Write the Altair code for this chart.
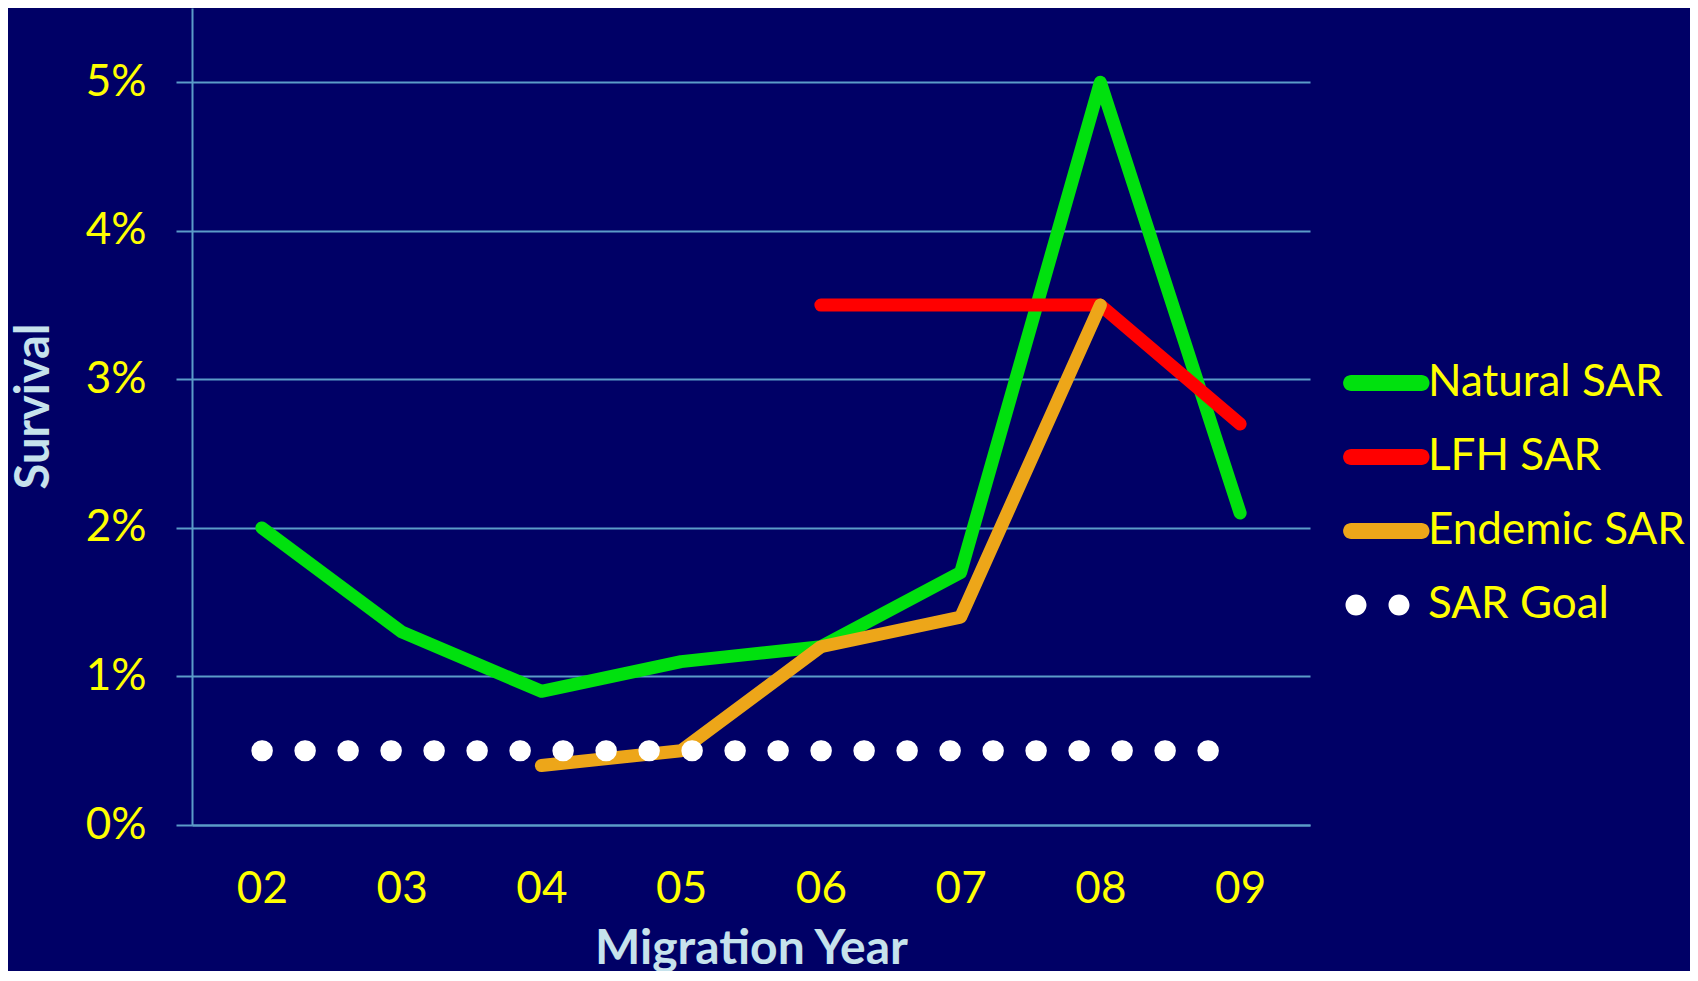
import altair as alt
import pandas as pd

# ---- data ----
years = ["02", "03", "04", "05", "06", "07", "08", "09"]
natural_sar = [2.0, 1.3, 0.9, 1.1, 1.2, 1.7, 5.0, 2.1]
lfh_sar = [None, None, None, None, 3.5, 3.5, 3.5, 2.7]
endemic_sar = [None, None, 0.4, 0.5, 1.2, 1.4, 3.5, None]
sar_goal = [0.5, 0.5, 0.5, 0.5, 0.5, 0.5, 0.5, 0.5]
series_names = ["Natural SAR", "LFH SAR", "Endemic SAR", "SAR Goal"]
series_colors = ["#00E10E", "#FF0000", "#EDA619", "#FFFFFF"]
y_ticks = [0, 1, 2, 3, 4, 5]

rows = []
for name, vals in zip(series_names, [natural_sar, lfh_sar, endemic_sar, sar_goal]):
    for yr, v in zip(years, vals):
        if v is not None:
            rows.append({"year": yr, "value": v, "series": name})
df = pd.DataFrame(rows)

BG = "#000066"
GRID = "#5B9BC8"
YELLOW = "#FFFF00"
TITLE_C = "#C6E2EC"
FONT = "Lato"

# legend symbol shapes (custom paths)
line_sym = "M-1.92,-0.4H1.6A0.4,0.4 0 0 1 1.6,0.4H-1.92A0.4,0.4 0 0 1 -1.92,-0.4Z"
dots_sym = ("M-2.2,0A0.525,0.525 0 1 0 -1.15,0A0.525,0.525 0 1 0 -2.2,0Z "
            "M-0.05,0A0.525,0.525 0 1 0 1.0,0A0.525,0.525 0 1 0 -0.05,0Z")
legend_shapes = [line_sym, line_sym, line_sym, dots_sym]

x_enc = alt.X(
    "year:O",
    scale=alt.Scale(domain=years, type="point", padding=0.5),
    axis=alt.Axis(
        title="Migration Year", labelAngle=0, ticks=False, grid=False,
        domain=True, domainColor=GRID, domainWidth=2,
        labelColor=YELLOW, labelFont=FONT, labelFontSize=44,
        labelBaseline="alphabetic", labelPadding=77,
        titleColor=TITLE_C, titleFont=FONT, titleFontSize=48, titleFontWeight="bold",
        titleY=138, titleBaseline="alphabetic",
    ),
)
y_enc = alt.Y(
    "value:Q",
    scale=alt.Scale(domain=[0, 5.5], nice=False),
    axis=alt.Axis(
        title="Survival", values=y_ticks, labelExpr="datum.value + '%'",
        grid=True, gridColor=GRID, gridWidth=2,
        tickSize=16, tickColor=GRID, tickWidth=2,
        domain=True, domainColor=GRID, domainWidth=2,
        labelColor=YELLOW, labelFont=FONT, labelFontSize=44, labelPadding=30,
        titleColor=TITLE_C, titleFont=FONT, titleFontSize=47, titleFontWeight="bold",
        titleAngle=270, titleAlign="center", titleBaseline="middle",
        titleX=-158, titleY=398,
    ),
)

base = alt.Chart(df)

layers = []
for name, col in zip(series_names[:3], series_colors[:3]):
    layers.append(
        base.transform_filter(alt.datum.series == name)
        .mark_line(color=col, strokeWidth=13, strokeCap="round", strokeJoin="round")
        .encode(x=x_enc, y=y_enc)
    )

goal = (
    base.transform_filter(alt.datum.series == "SAR Goal")
    .mark_line(color="#FFFFFF", strokeWidth=21, strokeCap="round", strokeDash=[0.5, 42.5])
    .encode(x=x_enc, y=y_enc)
)
layers.append(goal)

legend_cfg = dict(
    title=None, orient="none", legendX=1175.5, legendY=353,
    symbolSize=1600, symbolStrokeWidth=0, symbolOpacity=1,
    labelColor=YELLOW, labelFont=FONT, labelFontSize=44,
    labelOffset=16.5, rowPadding=30, padding=0, labelLimit=500,
)

legend_layer = base.mark_point(filled=True, opacity=0).encode(
    x=x_enc,
    y=y_enc,
    fill=alt.Fill(
        "series:N",
        scale=alt.Scale(domain=series_names, range=series_colors),
        legend=alt.Legend(**legend_cfg),
    ),
    shape=alt.Shape(
        "series:N",
        scale=alt.Scale(domain=series_names, range=legend_shapes),
        legend=alt.Legend(**legend_cfg),
    ),
)
layers.append(legend_layer)

chart = (
    alt.layer(*layers)
    .properties(
        width=1118, height=817,
        autosize=alt.AutoSizeParams(type="none"),
        padding={"left": 184, "top": 0, "right": 380, "bottom": 146},
        background=BG,
    )
    .configure_view(stroke=None)
)

chart.save("out.html", embed_options={"renderer": "svg", "actions": False})
